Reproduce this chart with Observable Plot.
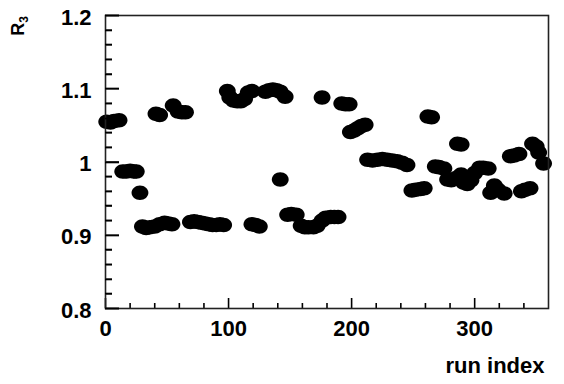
<!DOCTYPE html>
<html>
<head>
<meta charset="utf-8">
<script src="https://cdn.jsdelivr.net/npm/d3@7"></script>
<script src="https://cdn.jsdelivr.net/npm/@observablehq/plot@0.6"></script>
<style>
  html, body { margin: 0; padding: 0; background: #fff; }
</style>
</head>
<body>
<div id="chart"></div>
<script>
// run index values
const runIndex = [
  1, 4, 7, 11,
  14, 17, 20, 23, 25,
  28,
  30, 33, 36, 40, 44, 48, 51, 54,
  41, 44,
  55, 59, 62, 65,
  69, 72, 75, 78, 81, 84, 87, 90, 93, 96,
  99, 101, 104, 107, 110, 113, 116, 119,
  119, 122, 125,
  130, 133, 136, 139, 142, 146,
  142,
  148, 151, 155,
  159, 162, 165, 169, 172,
  176,
  176, 179, 183, 186, 189,
  192, 195, 198,
  199, 202, 205, 208, 211,
  213, 217, 221, 225, 229, 233, 237, 241, 245,
  249, 252, 256, 259,
  262, 265,
  268, 271, 275,
  278, 281, 285, 286, 289, 289, 291, 294, 297, 300, 304, 307, 311,
  313, 316, 319, 324,
  329, 332, 336,
  338, 341, 345,
  347, 350, 352, 356
];
// R3 values
const r3 = [
  1.055, 1.054, 1.056, 1.057,
  0.987, 0.987, 0.988, 0.987, 0.987,
  0.958,
  0.912, 0.910, 0.911, 0.912, 0.915, 0.917, 0.916, 0.915,
  1.066, 1.064,
  1.077, 1.069, 1.068, 1.068,
  0.918, 0.919, 0.918, 0.917, 0.916, 0.915, 0.914, 0.914, 0.915, 0.914,
  1.097, 1.088, 1.084, 1.083, 1.083, 1.086, 1.095, 1.097,
  0.915, 0.914, 0.912,
  1.096, 1.098, 1.099, 1.098, 1.096, 1.089,
  0.976,
  0.928, 0.929, 0.928,
  0.913, 0.911, 0.911, 0.911, 0.913,
  1.088,
  0.920, 0.924, 0.925, 0.925, 0.925,
  1.080, 1.079, 1.079,
  1.041, 1.043, 1.046, 1.049, 1.051,
  1.003, 1.002, 1.003, 1.004, 1.003, 1.002, 1.001, 0.999, 0.996,
  0.961, 0.962, 0.963, 0.964,
  1.062, 1.061,
  0.994, 0.993, 0.991,
  0.976, 0.975, 0.978, 1.025, 1.024, 0.983, 0.972, 0.970, 0.975, 0.985, 0.992, 0.992, 0.991,
  0.958, 0.968, 0.962, 0.957,
  1.008, 1.009, 1.011,
  0.960, 0.962, 0.964,
  1.025, 1.021, 1.013, 0.998
];

const xMajor = [0, 100, 200, 300];
const xMinor = [20, 40, 60, 80, 120, 140, 160, 180, 220, 240, 260, 280, 320, 340];
const yMajor = [0.8, 0.9, 1.0, 1.1, 1.2];
const yMinor = [0.82, 0.84, 0.86, 0.88, 0.92, 0.94, 0.96, 0.98, 1.02, 1.04, 1.06, 1.08, 1.12, 1.14, 1.16, 1.18];
const xLabel = "run index";
const yLabel = "R3";

const data = runIndex.map((x, i) => ({x, y: r3[i]}));

const W = 564, H = 384, mL = 105, mR = 16, mT = 15, mB = 76;
const plotW = W - mL - mR, plotH = H - mT - mB;

// slightly wide elliptical marker
const ellipseSymbol = {
  draw(ctx, size) {
    const r = Math.sqrt(size / Math.PI);
    const rx = r * 1.08, ry = r * 0.93, k = 0.5523;
    ctx.moveTo(rx, 0);
    ctx.bezierCurveTo(rx, ry * k, rx * k, ry, 0, ry);
    ctx.bezierCurveTo(-rx * k, ry, -rx, ry * k, -rx, 0);
    ctx.bezierCurveTo(-rx, -ry * k, -rx * k, -ry, 0, -ry);
    ctx.bezierCurveTo(rx * k, -ry, rx, -ry * k, rx, 0);
    ctx.closePath();
  }
};

const fmtY = d => String(+d.toFixed(2));
const font = "'Liberation Sans', Arial, Helvetica, sans-serif";

const chart = Plot.plot({
  width: W,
  height: H,
  marginLeft: mL,
  marginRight: mR,
  marginTop: mT,
  marginBottom: mB,
  style: {fontFamily: font, fontWeight: "bold", fontSize: "22px", background: "#fff", color: "#000"},
  x: {domain: [0, 360]},
  y: {domain: [0.8, 1.2]},
  marks: [
    Plot.dot(data, {x: "x", y: "y", r: 7.8, fill: "#000", stroke: "none", symbol: ellipseSymbol}),
    // inward ticks
    Plot.tickX(xMajor, {x: d => d, stroke: "#000", strokeWidth: 1.6, insetTop: plotH - 10}),
    Plot.tickX(xMinor, {x: d => d, stroke: "#000", strokeWidth: 1.6, insetTop: plotH - 5}),
    Plot.tickY(yMajor, {y: d => d, stroke: "#000", strokeWidth: 1.6, insetRight: plotW - 14}),
    Plot.tickY(yMinor, {y: d => d, stroke: "#000", strokeWidth: 1.6, insetRight: plotW - 7}),
    Plot.frame({stroke: "#222", strokeWidth: 1.6}),
    Plot.axisX(xMajor, {tickSize: 0, tickPadding: 12, fontSize: 22, fontWeight: "bold",
      tickFormat: d => String(d), label: xLabel, labelAnchor: "right", labelArrow: "none", labelOffset: 64}),
    Plot.axisY(yMajor, {tickSize: 0, tickPadding: 14, fontSize: 22, fontWeight: "bold", dy: 2,
      tickFormat: fmtY, label: yLabel, labelAnchor: "top", labelArrow: "none"})
  ]
});

document.getElementById("chart").appendChild(chart);

// y-axis inward ticks drawn on top, placed through Plot's own y scale
const yScale = chart.scale("y");
const svg = d3.select(chart);
const gTicks = svg.append("g").attr("stroke", "#000").attr("stroke-width", 1.6);
[[yMajor, 14], [yMinor, 7]].forEach(([vals, len]) => {
  vals.forEach(v => {
    const py = Math.round(yScale.apply(v)) + 0.5;
    gTicks.append("line")
      .attr("x1", mL).attr("x2", mL + len)
      .attr("y1", py).attr("y2", py);
  });
});

// rotate the y label, add subscript; nudge x label
svg.selectAll("text").each(function() {
  const t = d3.select(this);
  if (t.text() === yLabel) {
    chart.appendChild(this);
    t.text(null)
      .attr("transform", "translate(24,16) rotate(-90)")
      .attr("x", null).attr("y", null).attr("dy", null)
      .attr("text-anchor", "end")
      .attr("font-family", font)
      .attr("font-weight", "bold")
      .style("font-size", "18px");
    t.append("tspan").text("R");
    t.append("tspan").attr("dy", "0.3em").style("font-size", "12px").text("3");
  } else if (t.text() === xLabel) {
    const tr = t.attr("transform") || "";
    t.attr("transform", tr + " translate(-17,0)");
  }
});
</script>
</body>
</html>
